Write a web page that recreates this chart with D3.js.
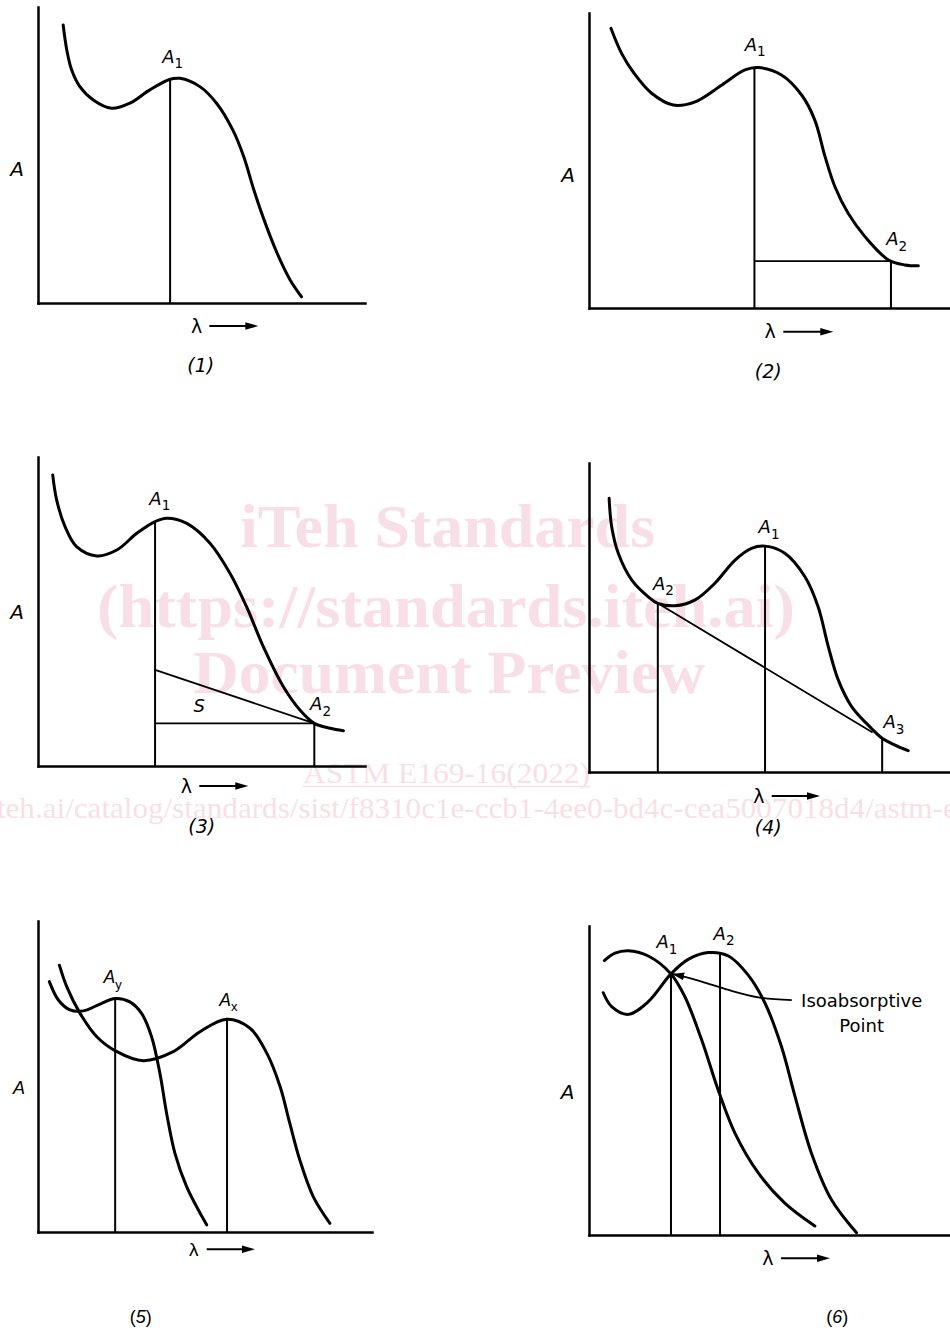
<!DOCTYPE html>
<html>
<head>
<meta charset="utf-8">
<title>Absorbance vs wavelength</title>
<script src="https://cdn.jsdelivr.net/npm/d3@7/dist/d3.min.js"></script>
<style>
  body { margin: 0; background: #fff; }
  svg { display: block; }
</style>
</head>
<body>
<div id="chart"></div>
<script>
// curves as [lambda, A], both in % of the axis length
var p1Curve = [[7.7,93.9],[8.8,85.5],[10.3,78.7],[12.8,73.1],[16.9,68.6],[22.5,65.8],[28.1,67.5],[34.2,72.0],
    [40.4,75.6],[43.4,75.9],[49.5,73.1],[54.6,67.5],[59.6,58.4],[62.9,49.5],[65.9,38.6],[68.8,29.1],
    [73.1,16.9],[77.1,7.8],[80.6,2.1]];
var p1Marks = [{sub:"1", l:40.4, a:75.7}];

var p2Curve = [[6.0,94.8],[8.9,86.3],[12.4,79.4],[17.1,72.8],[23.0,68.8],[29.0,69.9],[36.3,75.6],[42.6,80.7],
    [46.3,81.5],[52.6,79.0],[58.1,72.2],[61.7,63.7],[64.5,51.3],[67.2,41.1],[70.8,32.1],[75.4,24.2],
    [81.8,16.3],[86.3,14.6],[90.0,14.3]];
var p2Marks = [{sub:"1", l:45.2, a:81.4}, {sub:"2", l:82.5, a:15.9}];
var p2Segs = [[45.2,15.9,82.5,15.9]];

var p3Curve = [[4.5,94.2],[5.7,86.1],[8.3,77.4],[11.8,71.0],[18.0,68.0],[24.1,69.9],[30.2,75.3],[35.8,79.1],
    [39.4,80.2],[45.5,78.5],[52.6,72.1],[58.7,62.4],[63.8,51.5],[68.9,38.6],[75.0,25.7],[80.1,18.1],
    [84.5,13.8],[89.3,12.2],[93.4,11.4]];
var p3Marks = [{sub:"1", l:35.8, a:79.1}, {sub:"2", l:84.5, a:13.8}];
var p3Segs = [[35.8,31.1,84.5,13.8],[35.8,13.8,84.5,13.8]];
var p3Notes = [{text:"S", l:49.3, a:17.6}];

var p4Curve = [[5.5,88.6],[6.2,79.4],[8.0,70.8],[11.7,62.1],[16.2,56.7],[18.8,54.6],[23.5,53.8],[29.0,55.7],
    [34.4,61.1],[39.9,68.6],[44.4,72.4],[48.1,73.1],[53.5,70.8],[59.0,63.2],[62.6,53.5],[65.4,40.5],
    [68.1,29.8],[71.8,21.1],[77.2,14.1],[80.1,10.9],[83.6,8.7],[87.2,6.9]];
var p4Marks = [{sub:"2", l:18.8, a:54.6}, {sub:"1", l:48.1, a:73.1}, {sub:"3", l:80.1, a:10.9}];
var p4Segs = [[18.8,54.6,77.5,12.8]];

var p5CurveY = [[3.4,80.5],[6.1,74.6],[9.6,71.4],[13.6,71.1],[18.6,73.3],[23.1,75.1],[27.5,74.0],[31.0,70.3],
    [34.0,62.8],[36.5,51.0],[38.5,38.2],[41.0,25.3],[44.5,14.6],[50.5,2.3]];
var p5CurveX = [[6.4,85.8],[8.6,78.9],[12.6,70.3],[17.6,62.8],[23.6,58.0],[31.5,55.1],[40.5,58.0],[48.5,64.4],
    [56.5,68.4],[63.5,65.5],[68.5,57.5],[72.5,46.7],[75.4,34.9],[78.4,23.1],[82.4,11.4],[87.4,2.8]];
var p5Marks = [{sub:"y", l:23.1, a:75.1}, {sub:"x", l:56.6, a:68.4}];

var p6Curve1 = [[4.2,88.8],[7.1,91.2],[10.7,92.0],[16.2,90.3],[22.4,84.5],[26.2,77.1],[30.8,63.1],[35.3,46.9],
    [39.9,32.9],[46.3,20.0],[53.5,10.3],[61.7,2.9]];
var p6Curve2 = [[3.9,78.4],[6.2,73.9],[10.7,71.4],[16.2,75.5],[22.4,84.5],[27.1,89.2],[32.6,91.4],[38.1,90.3],
    [43.5,84.1],[48.1,75.0],[52.6,60.9],[56.3,44.8],[60.8,26.4],[66.3,11.3],[73.1,0.7]];
var p6Marks = [{sub:"1", l:22.4, a:84.5}, {sub:"2", l:35.8, a:90.9}];
var p6Pointer = [[55.4,76.0],[46.3,76.9],[38.1,79.3],[30.8,82.0],[25.3,83.8],[23.0,84.4]];
var p6Notes = [{text:"Isoabsorptive", l:74.5, a:73.8}, {text:"Point", l:74.5, a:65.7}];

var captions = ["(1)", "(2)", "(3)", "(4)", "(5)", "(6)"];

var wmBig = ["iTeh Standards", "(https://standards.iteh.ai)", "Document Preview"];
var wmSmall = ["ASTM E169-16(2022)",
    "https://standards.iteh.ai/catalog/standards/sist/f8310c1e-ccb1-4ee0-bd4c-cea5007018d4/astm-e169-16-2022"];

// layout of each panel (pixels)
var dejavu = "'DejaVu Sans', Verdana, sans-serif",
    arial = "'Liberation Sans', Arial, sans-serif";

var panels = [
    {ox:38,  oy:303,  xlen:327, ylen:296, curves:[p1Curve], marks:p1Marks, segs:[],
     labOff:[[2.5,-16]], aLab:[-21,-127], lam:[158.7,30,171.3,220.3,23], cap:[162.8,69],
     font:dejavu, capFont:dejavu, capItalic:true, lab:18, sub:13.5},
    {ox:589, oy:308,  xlen:366, ylen:295, curves:[p2Curve], marks:p2Marks, segs:p2Segs,
     labOff:[[0.7,-17],[5.7,-16]], aLab:[-21,-126.5], lam:[181,30,194.3,244.3,23.7], cap:[179.3,69.5],
     font:dejavu, capFont:dejavu, capItalic:true, lab:18, sub:13.5},
    {ox:38,  oy:766,  xlen:327, ylen:309, curves:[p3Curve], marks:p3Marks, segs:p3Segs, notes:p3Notes,
     labOff:[[4.7,-16.7],[6.2,-13.3]], aLab:[-21,-147], lam:[148.3,26.7,161.3,210.3,20], cap:[163.7,66.5],
     font:dejavu, capFont:dejavu, capItalic:true, lab:18, sub:13.5},
    {ox:589, oy:772,  xlen:366, ylen:309, curves:[p4Curve], marks:p4Marks, segs:p4Segs,
     labOff:[[5.6,-13.3],[4,-13],[11.7,-10]], aLab:null, lam:[169.8,31,182.7,231,24], cap:[179.3,62],
     font:dejavu, capFont:dejavu, capItalic:true, lab:18, sub:13.5},
    {ox:38,  oy:1232, xlen:334, ylen:311, curves:[p5CurveY, p5CurveX], marks:p5Marks, segs:[],
     labOff:[[-2.5,-15],[1.3,-13.3]], aLab:[-19,-138], lam:[155.8,24,168.7,217,17.3], cap:[102.8,91],
     font:arial, capFont:arial, capItalic:false, lab:17.5, sub:13},
    {ox:589, oy:1235, xlen:366, ylen:309, curves:[p6Curve1, p6Curve2], marks:p6Marks, segs:[],
     notes:p6Notes, pointer:p6Pointer,
     labOff:[[-4,-25.7],[4,-14.3]], aLab:[-21.5,-136], lam:[178.8,30,192,241,23.3], cap:[248.2,88],
     font:dejavu, capFont:arial, capItalic:false, lab:18, sub:13.5}
];

var width = 950, height = 1331;

var svg = d3.select("#chart").append("svg")
    .attr("width", width)
    .attr("height", height);

svg.append("rect").attr("width", width).attr("height", height).attr("fill", "#fff");

// watermark goes first, the drawings sit on top of it
var wmColor = "#f8dfe7";
var wmBigPos = [{x:447.5, y:547, len:415}, {x:446, y:627, len:698}, {x:449, y:693, len:512}];
var wmSmallPos = [{x:446.5, y:783, len:287, size:30}, {x:447, y:818, len:1341, size:29}];

var wm = svg.append("g").attr("fill", wmColor)
    .style("font-family", "'Liberation Serif', 'Times New Roman', serif");

wm.selectAll("text.big").data(wmBig).enter().append("text")
    .attr("class", "big")
    .attr("x", function(d, i){ return wmBigPos[i].x; })
    .attr("y", function(d, i){ return wmBigPos[i].y; })
    .attr("text-anchor", "middle")
    .attr("textLength", function(d, i){ return wmBigPos[i].len; })
    .attr("lengthAdjust", "spacingAndGlyphs")
    .style("font-size", "62px")
    .style("font-weight", "bold")
    .text(function(d){ return d; });

wm.selectAll("text.small").data(wmSmall).enter().append("text")
    .attr("class", "small")
    .attr("x", function(d, i){ return wmSmallPos[i].x; })
    .attr("y", function(d, i){ return wmSmallPos[i].y; })
    .attr("text-anchor", "middle")
    .attr("textLength", function(d, i){ return wmSmallPos[i].len; })
    .attr("lengthAdjust", "spacingAndGlyphs")
    .style("font-size", function(d, i){ return wmSmallPos[i].size + "px"; })
    .text(function(d){ return d; });

// underline under the ASTM line
wm.append("line")
    .attr("x1", wmSmallPos[0].x - wmSmallPos[0].len / 2)
    .attr("x2", wmSmallPos[0].x + wmSmallPos[0].len / 2)
    .attr("y1", wmSmallPos[0].y + 3.5)
    .attr("y2", wmSmallPos[0].y + 3.5)
    .attr("stroke", wmColor)
    .attr("stroke-width", 1.5);

var defs = svg.append("defs");
defs.append("marker")
    .attr("id", "tip")
    .attr("markerUnits", "userSpaceOnUse")
    .attr("viewBox", "0 -5 12 10")
    .attr("refX", 11)
    .attr("refY", 0)
    .attr("markerWidth", 12)
    .attr("markerHeight", 10)
    .attr("orient", "auto")
    .append("path")
    .attr("d", "M0,-4L12,0L0,4Z")
    .attr("fill", "#000");

var drawPanel = function(p, idx){
    var x = d3.scaleLinear().domain([0, 100]).range([p.ox, p.ox + p.xlen]);
    var y = d3.scaleLinear().domain([0, 100]).range([p.oy, p.oy - p.ylen]);
    var g = svg.append("g");

    // bare axes: no ticks, just the domain lines
    g.append("g")
        .attr("transform", "translate(0," + p.oy + ")")
        .call(d3.axisBottom(x).tickValues([]).tickSizeOuter(0));
    g.append("g")
        .attr("transform", "translate(" + p.ox + ",0)")
        .call(d3.axisLeft(y).tickValues([]).tickSizeOuter(0));
    g.selectAll(".domain")
        .attr("stroke", "#000")
        .attr("stroke-width", 2.5)
        .attr("stroke-linecap", "square");

    // drop lines from the marked points
    g.selectAll("line.drop").data(p.marks).enter().append("line")
        .attr("class", "drop")
        .attr("x1", function(d){ return x(d.l); })
        .attr("x2", function(d){ return x(d.l); })
        .attr("y1", function(d){ return y(d.a); })
        .attr("y2", y(0))
        .attr("stroke", "#000")
        .attr("stroke-width", 2);

    g.selectAll("line.seg").data(p.segs).enter().append("line")
        .attr("class", "seg")
        .attr("x1", function(d){ return x(d[0]); })
        .attr("y1", function(d){ return y(d[1]); })
        .attr("x2", function(d){ return x(d[2]); })
        .attr("y2", function(d){ return y(d[3]); })
        .attr("stroke", "#000")
        .attr("stroke-width", 1.8);

    var line = d3.line()
        .x(function(d){ return x(d[0]); })
        .y(function(d){ return y(d[1]); })
        .curve(d3.curveCatmullRom.alpha(0.5));

    g.selectAll("path.curve").data(p.curves).enter().append("path")
        .attr("class", "curve")
        .attr("d", line)
        .attr("fill", "none")
        .attr("stroke", "#000")
        .attr("stroke-width", 3)
        .attr("stroke-linecap", "round");

    if (p.pointer){
        g.append("path")
            .attr("d", line(p.pointer))
            .attr("fill", "none")
            .attr("stroke", "#000")
            .attr("stroke-width", 1.8)
            .attr("marker-end", "url(#tip)");
    }

    // A1, A2 ... labels
    p.marks.forEach(function(m, i){
        var off = p.labOff[i];
        var t = g.append("text")
            .attr("x", x(m.l) + off[0])
            .attr("y", y(m.a) + off[1])
            .attr("text-anchor", "middle")
            .style("font-family", p.font)
            .style("font-size", p.lab + "px");
        t.append("tspan").style("font-style", "italic").text("A");
        t.append("tspan").attr("dy", 5.5).style("font-size", p.sub + "px").text(m.sub);
    });

    (p.notes || []).forEach(function(n){
        g.append("text")
            .attr("x", x(n.l))
            .attr("y", y(n.a))
            .attr("text-anchor", "middle")
            .style("font-family", p.font)
            .style("font-size", n.text.length > 1 ? "18px" : "18px")
            .style("font-style", n.text.length > 1 ? "normal" : "italic")
            .text(n.text);
    });

    if (p.aLab){
        g.append("text")
            .attr("x", p.ox + p.aLab[0])
            .attr("y", p.oy + p.aLab[1])
            .attr("text-anchor", "middle")
            .style("font-family", p.font)
            .style("font-size", (p.font == arial ? 18 : 20) + "px")
            .style("font-style", "italic")
            .text("A");
    }

    // lambda with its arrow
    g.append("text")
        .attr("x", p.ox + p.lam[0])
        .attr("y", p.oy + p.lam[1])
        .attr("text-anchor", "middle")
        .style("font-family", p.font)
        .style("font-size", "19px")
        .text("\u03bb");
    var ay = p.oy + p.lam[4], ax0 = p.ox + p.lam[2], ax1 = p.ox + p.lam[3];
    g.append("line")
        .attr("x1", ax0).attr("x2", ax1 - 8)
        .attr("y1", ay).attr("y2", ay)
        .attr("stroke", "#000")
        .attr("stroke-width", 2);
    g.append("path")
        .attr("d", "M" + (ax1 - 13) + "," + (ay - 3.8) + "L" + ax1 + "," + ay + "L" + (ax1 - 13) + "," + (ay + 3.8) + "Z")
        .attr("fill", "#000");

    // caption (n)
    var c = g.append("text")
        .attr("x", p.ox + p.cap[0])
        .attr("y", p.oy + p.cap[1])
        .attr("text-anchor", "middle")
        .style("font-family", p.capFont)
        .style("font-size", (p.capFont == arial ? 18 : 19) + "px");
    if (p.capItalic){
        c.style("font-style", "italic").text(captions[idx]);
    } else {
        var s = captions[idx];
        c.append("tspan").text(s.charAt(0));
        c.append("tspan").style("font-style", "italic").text(s.slice(1, -1));
        c.append("tspan").text(s.slice(-1));
    }
};

panels.forEach(function(p, i){ drawPanel(p, i); });
</script>
</body>
</html>
